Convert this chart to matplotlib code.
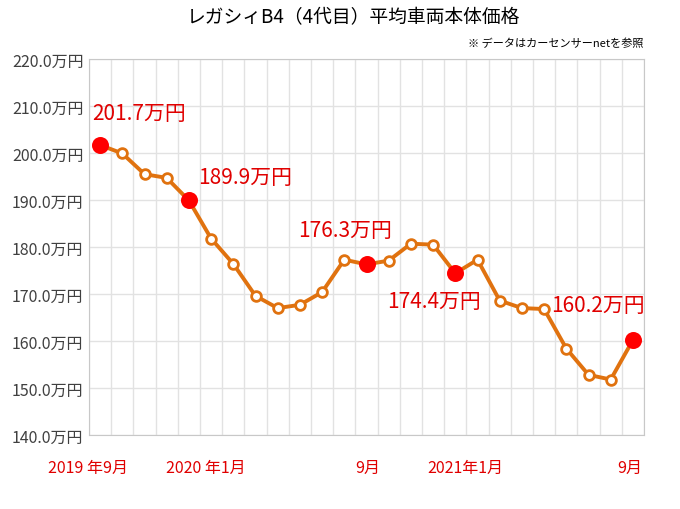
"""
Legacy B4 (4th gen) average price chart.
"""

import matplotlib
matplotlib.use("Agg")
import matplotlib.pyplot as plt
import numpy as np

plt.rcParams["font.family"] = ["Noto Sans CJK JP", "DejaVu Sans"]

# data: monthly average price (万円), 2019/9 - 2021/9
months = ["2019-09", "2019-10", "2019-11", "2019-12", "2020-01", "2020-02", "2020-03",
          "2020-04", "2020-05", "2020-06", "2020-07", "2020-08", "2020-09", "2020-10",
          "2020-11", "2020-12", "2021-01", "2021-02", "2021-03", "2021-04", "2021-05",
          "2021-06", "2021-07", "2021-08", "2021-09"]
prices = [201.7, 199.9, 195.5, 194.7, 189.9, 181.8, 176.4, 169.6, 167.0, 167.7,
          170.4, 177.3, 176.3, 177.1, 180.7, 180.5, 174.4, 177.3, 168.6, 167.0,
          166.8, 158.4, 152.8, 151.8, 160.2]
highlight_idx = [0, 4, 12, 16, 24]
x_labels = ["2019 年9月", "2020 年1月", "9月", "2021年1月", "9月"]

# layout only
x_label_pos = [-0.55, 4.75, 12.05, 16.45, 23.85]
hl_offsets = [(-6, 23), (7, 17), (-49, 24.5), (-49, -20), (-59, 25)]

fig = plt.figure(figsize=(6.8, 5.1), dpi=100)
ax = fig.add_axes([89 / 680, 1 - 436 / 510, (644 - 89) / 680, (436 - 60) / 510])

x = np.arange(len(months))
ax.plot(x, prices, color="#E0720F", linewidth=2.8, marker="o", markersize=7,
        markerfacecolor="white", markeredgecolor="#E0720F", markeredgewidth=2, zorder=3)
hx = x[highlight_idx]
hy = [prices[i] for i in highlight_idx]
ax.scatter(hx, hy, s=150, color="#FF0000", zorder=4, linewidths=0)

for (xi, yi), (dx, dy) in zip(zip(hx, hy), hl_offsets):
    ax.annotate(f"{yi:.1f}万円", (xi, yi), xytext=(dx, dy), textcoords="offset points",
                color="#E00000", fontsize=15, ha="left", va="center")

ax.set_xlim(-0.5, len(months) - 0.5)
ax.set_ylim(140, 220)
ax.set_yticks(np.arange(140, 221, 10))
ax.set_yticklabels([f"{v:.1f}万円" for v in np.arange(140, 221, 10)], fontsize=11.5, color="#404040")
ax.set_xticks(np.arange(-0.5, len(months), 1))
ax.set_xticklabels([])
ax.tick_params(length=0, pad=4)
ax.grid(axis="both", color="#E2E2E2", linewidth=1)
ax.set_axisbelow(True)
for s in ax.spines.values():
    s.set_color("#C8C8C8")

for pos, lab in zip(x_label_pos, x_labels):
    ax.text(pos, -0.085, lab, transform=ax.get_xaxis_transform(), ha="center", va="center",
            color="#E00000", fontsize=11.5)

fig.text(0.52, 0.965, "レガシィB4（4代目）平均車両本体価格", ha="center", va="center", fontsize=13.5)
fig.text(644 / 680, 1 - 44 / 510, "※ データはカーセンサーnetを参照", ha="right", va="center", fontsize=8)

plt.savefig("out.png", dpi=100)
